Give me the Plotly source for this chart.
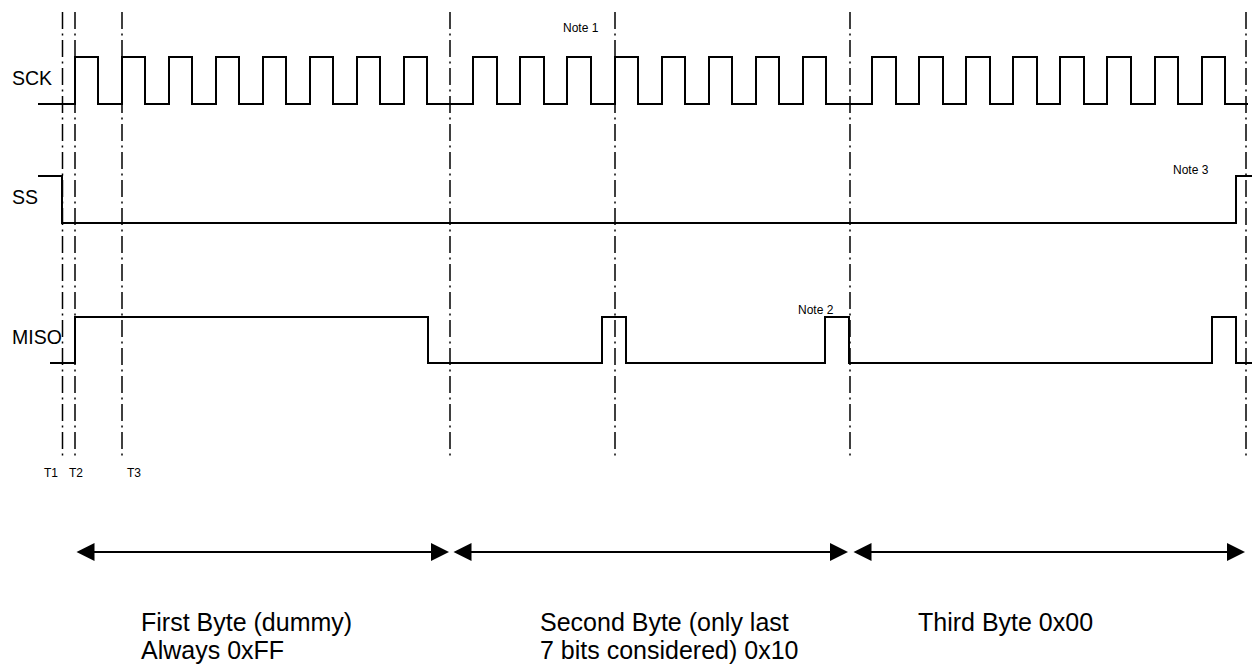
import plotly.graph_objects as go

# ---- data (time axis in drawing units, levels per lane) ----
LANES = ["SCK", "SS", "MISO"]
LANE_HIGH = [57, 176, 317]
LANE_LOW = [104, 223, 363]
LANE_LABEL_Y = [78, 197, 337]

SCK_RISE = [75, 122, 169, 216, 263, 310, 357, 404,
            473, 520, 567, 615, 662, 709, 756, 803,
            872, 919, 966, 1013, 1060, 1107, 1155, 1202]
SCK_FALL = [98, 145, 192, 239, 286, 333, 380, 427,
            497, 544, 591, 638, 685, 732, 779, 826,
            896, 943, 990, 1037, 1084, 1131, 1178, 1225]
SCK_SPAN = [38, 1248]
SCK_INIT = 0

SS_EDGES = [62, 1236]
SS_SPAN = [38, 1252]
SS_INIT = 1

MISO_EDGES = [75, 428, 602, 626, 825, 849, 1212, 1236]
MISO_SPAN = [50, 1252]
MISO_INIT = 0

MARKER_T = [62.5, 75, 122, 450, 615, 850, 1246]
MARKER_Y = [12, 456]
T_LABELS = ["T1", "T2", "T3"]
T_LABEL_X = [51, 76, 134]
T_LABEL_Y = 473

NOTES = ["Note 1", "Note 2", "Note 3"]
NOTE_X = [581, 816, 1191]
NOTE_Y = [28, 310, 170]

BYTE_START = [75, 452, 852]
BYTE_END = [449, 848, 1245]
ARROW_Y = 552
BYTE_LINE1 = ["First Byte (dummy)", "Second Byte (only last", "Third Byte 0x00"]
BYTE_LINE2 = ["Always 0xFF", "7 bits considered) 0x10", ""]
BYTE_TEXT_X = [139, 538, 916]
BYTE_TEXT_Y = [622, 650]

FONT = "Liberation Sans, Arial, Helvetica, sans-serif"


def step(edges, span, init, hi, lo):
    xs, ys = [span[0]], []
    lvl = init
    ys.append(hi if lvl else lo)
    for e in edges:
        lvl = 1 - lvl
        xs.append(e)
        ys.append(hi if lvl else lo)
    xs.append(span[1])
    ys.append(ys[-1])
    return xs, ys


fig = go.Figure()

# dash-dot marker lines
for t in MARKER_T:
    fig.add_trace(go.Scatter(x=[t, t], y=MARKER_Y, mode="lines",
                             line=dict(color="black", width=1.5, dash="17px,4.5px,2px,4.5px"),
                             hoverinfo="skip", showlegend=False))

sck_edges = sorted(SCK_RISE + SCK_FALL)
signals = [
    (sck_edges, SCK_SPAN, SCK_INIT),
    (SS_EDGES, SS_SPAN, SS_INIT),
    (MISO_EDGES, MISO_SPAN, MISO_INIT),
]
for i, (edges, span, init) in enumerate(signals):
    xs, ys = step(edges, span, init, LANE_HIGH[i], LANE_LOW[i])
    fig.add_trace(go.Scatter(x=xs, y=ys, mode="lines", line_shape="hv",
                             line=dict(color="black", width=2),
                             hoverinfo="skip", showlegend=False))
    fig.add_annotation(x=10, y=LANE_LABEL_Y[i], text=LANES[i], showarrow=False,
                       xanchor="left", yanchor="middle",
                       font=dict(family=FONT, size=19.5, color="black"))

for lab, x in zip(T_LABELS, T_LABEL_X):
    fig.add_annotation(x=x, y=T_LABEL_Y, text=lab, showarrow=False,
                       xanchor="center", yanchor="middle",
                       font=dict(family=FONT, size=12, color="black"))

for lab, x, y in zip(NOTES, NOTE_X, NOTE_Y):
    fig.add_annotation(x=x, y=y, text=lab, showarrow=False,
                       xanchor="center", yanchor="middle",
                       font=dict(family=FONT, size=12, color="black"))

for s, e in zip(BYTE_START, BYTE_END):
    fig.add_annotation(x=e, y=ARROW_Y, ax=s, ay=ARROW_Y, axref="x", ayref="y",
                       xref="x", yref="y", text="", showarrow=True,
                       arrowhead=2, startarrowhead=2, arrowside="end+start",
                       arrowsize=1.8, startarrowsize=1.8, arrowwidth=2,
                       arrowcolor="black")

for l1, l2, x in zip(BYTE_LINE1, BYTE_LINE2, BYTE_TEXT_X):
    for txt, y in zip([l1, l2], BYTE_TEXT_Y):
        if txt:
            fig.add_annotation(x=x, y=y, text=txt, showarrow=False,
                               xanchor="left", yanchor="middle",
                               font=dict(family=FONT, size=25, color="black"))

fig.update_xaxes(range=[0, 1257], visible=False, fixedrange=True)
fig.update_yaxes(range=[664, 0], visible=False, fixedrange=True)
fig.update_layout(width=1257, height=664, margin=dict(l=0, r=0, t=0, b=0),
                  paper_bgcolor="white", plot_bgcolor="white", showlegend=False)

fig.write_html("out.html", config={"displayModeBar": False},
               post_script="document.body.style.margin='0';document.body.style.overflow='hidden';")
